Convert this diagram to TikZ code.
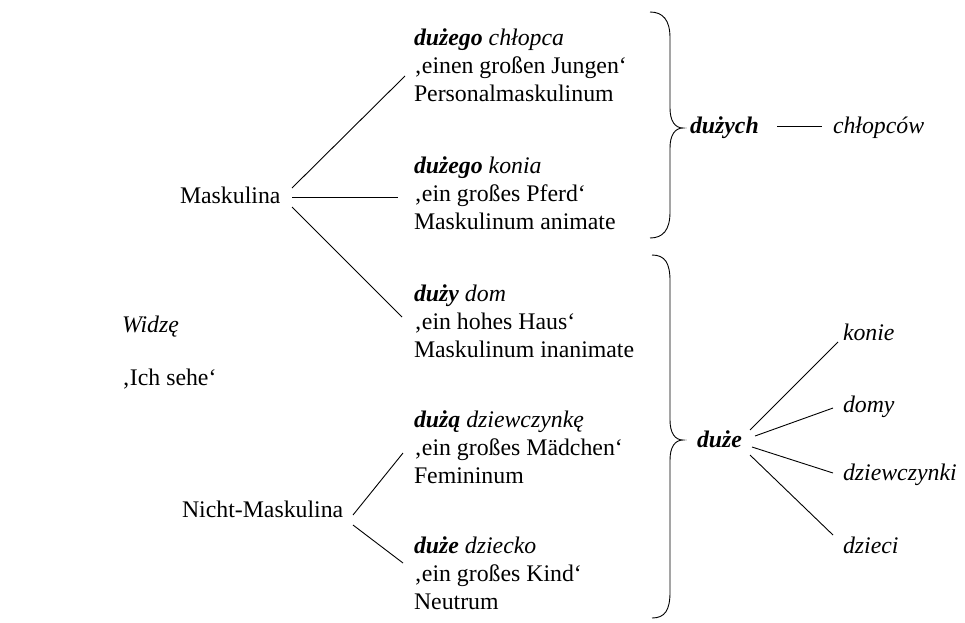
\documentclass[tikz,border=0pt]{standalone}
\usepackage{fontspec}
\setmainfont{Liberation Serif}[ItalicFont={Liberation Serif Italic},BoldFont={Liberation Serif Bold},BoldItalicFont={Liberation Serif Bold Italic}]
\begin{document}
\begin{tikzpicture}[x=1pt,y=-1pt,
  txt/.style={anchor=base west,inner sep=0pt,outer sep=0pt,font=\fontsize{23.8}{28}\selectfont},
  conn/.style={line width=0.9pt,black},
  brc/.style={line width=0.9pt,black}]
\useasboundingbox[fill=white] (0,0) rectangle (965,622);
% left
\node[txt] (widze) at (122,332) {\textit{Widzę}};
\node[txt] (ichsehe) at (122,385) {‚Ich sehe‘};
\node[txt] (mask) at (180,203) {Maskulina};
\node[txt] (nmask) at (182,517) {Nicht-Maskulina};
% block 1
\node[txt] (b1a) at (414,45) {\textbf{\textit{dużego}} \textit{chłopca}};
\node[txt] (b1b) at (414,73) {‚einen großen Jungen‘};
\node[txt] (b1c) at (414,101) {Personalmaskulinum};
% block 2
\node[txt] (b2a) at (414,173) {\textbf{\textit{dużego}} \textit{konia}};
\node[txt] (b2b) at (414,201) {‚ein großes Pferd‘};
\node[txt] (b2c) at (414,229) {Maskulinum animate};
% block 3
\node[txt] (b3a) at (414,301) {\textbf{\textit{duży}} \textit{dom}};
\node[txt] (b3b) at (414,329) {‚ein hohes Haus‘};
\node[txt] (b3c) at (414,357) {Maskulinum inanimate};
% block 4
\node[txt] (b4a) at (414,427) {\textbf{\textit{dużą}} \textit{dziewczynkę}};
\node[txt] (b4b) at (414,455) {‚ein großes Mädchen‘};
\node[txt] (b4c) at (414,483) {Femininum};
% block 5
\node[txt] (b5a) at (414,553) {\textbf{\textit{duże}} \textit{dziecko}};
\node[txt] (b5b) at (414,581) {‚ein großes Kind‘};
\node[txt] (b5c) at (414,609) {Neutrum};
% right
\node[txt] (duzych) at (690,133) {\textbf{\textit{dużych}}};
\node[txt] (chlopcow) at (833,133) {\textit{chłopców}};
\node[txt] (duze) at (697,447) {\textbf{\textit{duże}}};
\node[txt] (konie) at (843,340) {\textit{konie}};
\node[txt] (domy) at (843,412) {\textit{domy}};
\node[txt] (dziewczynki) at (843,480) {\textit{dziewczynki}};
\node[txt] (dzieci) at (843,553) {\textit{dzieci}};
% connector end points
\coordinate (m1) at (292,188); \coordinate (e1) at (405,76);
\coordinate (m2) at (292,197); \coordinate (e2) at (398,197);
\coordinate (m3) at (292,207); \coordinate (e3) at (402,317);
\coordinate (n1) at (353,515); \coordinate (e4) at (403,453);
\coordinate (n2) at (353,525); \coordinate (e5) at (403,563);
\coordinate (dy1) at (777,126); \coordinate (dy2) at (822,126);
\coordinate (d1) at (750,430); \coordinate (k1) at (838,342);
\coordinate (d2) at (755,436); \coordinate (k2) at (833,408);
\coordinate (d3) at (752,447); \coordinate (k3) at (833,473);
\coordinate (d4) at (750,455); \coordinate (k4) at (833,535);
\draw[conn] (m1) -- (e1);
\draw[conn] (m2) -- (e2);
\draw[conn] (m3) -- (e3);
\draw[conn] (n1) -- (e4);
\draw[conn] (n2) -- (e5);
\draw[conn] (dy1) -- (dy2);
\draw[conn] (d1) -- (k1);
\draw[conn] (d2) -- (k2);
\draw[conn] (d3) -- (k3);
\draw[conn] (d4) -- (k4);
% braces
\draw[brc] (650,12) .. controls (663,12) and (670,20) .. (670,38) -- (670,108)
  .. controls (670,121) and (675,128) .. (683,128)
  .. controls (675,128) and (670,135) .. (670,148) -- (670,212)
  .. controls (670,230) and (663,238) .. (650,238);
\draw[brc] (652,255) .. controls (665,255) and (670,263) .. (670,281) -- (670,420)
  .. controls (670,433) and (675,440) .. (683,440)
  .. controls (675,440) and (670,447) .. (670,460) -- (670,592)
  .. controls (670,610) and (665,618) .. (652,618);
\end{tikzpicture}
\end{document}
